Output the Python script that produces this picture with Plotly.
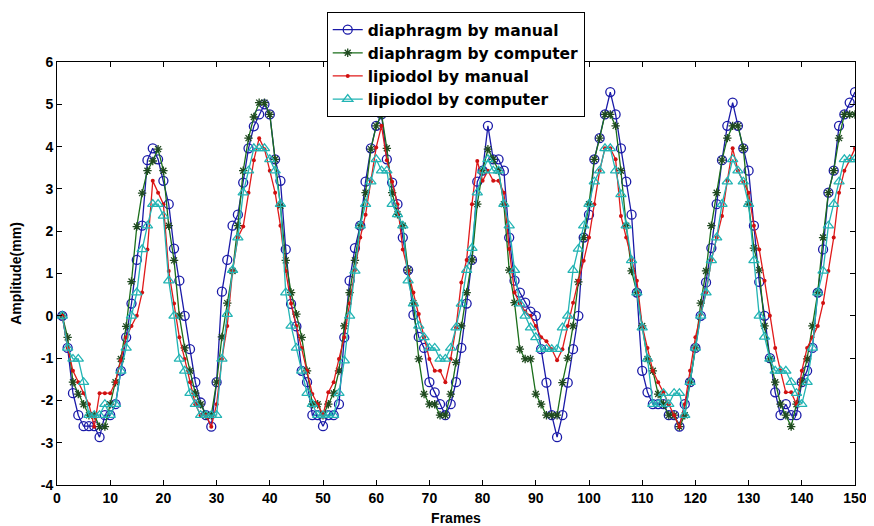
import plotly.graph_objects as go

frames = list(range(1, 151))

diaphragm_manual = [
    0, -0.76, -1.83, -2.35, -2.61, -2.61, -2.61, -2.87, -2.35, -2.35,
    -2.09, -1.30, -0.51, 0.29, 1.32, 2.13, 3.68, 3.96, 3.70, 3.19,
    2.64, 1.59, 0.83, 0.00, -0.79, -1.57, -2.05, -2.35, -2.62, -1.57,
    0.57, 1.32, 2.13, 2.39, 3.15, 3.96, 4.48, 4.76, 5.00, 4.76,
    3.70, 3.19, 1.57, 0.28, -0.25, -1.30, -1.57, -2.35, -2.35, -2.61,
    -2.35, -2.35, -2.09, -0.51, 0.83, 1.60, 2.13, 3.17, 3.96, 4.49,
    4.76, 3.70, 3.15, 2.64, 1.85, 1.08, 0.02, -0.50, -0.76, -1.57,
    -1.81, -2.09, -2.35, -2.09, -1.57, -0.76, 0.29, 1.32, 3.17, 3.43,
    4.49, 3.70, 3.70, 3.43, 1.85, 0.83, 0.55, 0.31, 0.10, 0.00,
    -0.79, -1.58, -2.35, -2.87, -2.35, -1.58, -0.79, 0.00, 1.85, 2.39,
    3.70, 4.20, 4.76, 5.29, 4.76, 3.96, 3.17, 2.39, 0.55, -1.30,
    -1.81, -2.09, -2.09, -2.09, -2.35, -2.35, -2.62, -2.09, -1.57, -0.76,
    0.00, 0.79, 1.60, 2.64, 3.68, 4.49, 5.04, 4.49, 3.96, 3.43,
    2.13, 0.80, 0.00, -1.00, -1.81, -2.35, -2.09, -2.35, -2.35, -1.57,
    -1.30, -0.76, 0.55, 1.57, 2.91, 3.43, 4.49, 4.76, 5.04, 5.29,
]

diaphragm_computer = [
    0, -0.51, -1.57, -1.85, -2.09, -2.35, -2.35, -2.62, -2.62, -2.09,
    -1.57, -1.02, -0.25, 0.81, 2.11, 2.90, 3.43, 3.66, 3.94, 3.43,
    2.13, 1.31, 0.00, -0.76, -1.30, -1.83, -2.09, -2.35, -2.35, -1.57,
    -0.50, 0.30, 1.06, 2.13, 3.43, 4.20, 4.70, 5.04, 5.04, 4.76,
    3.70, 2.60, 1.31, 0.55, 0.04, -0.51, -1.30, -2.09, -2.09, -2.35,
    -2.09, -1.83, -1.30, -0.24, 0.55, 1.31, 2.13, 2.91, 3.94, 4.49,
    4.76, 3.96, 2.91, 2.40, 2.13, 1.08, 0.30, -1.02, -1.85, -2.09,
    -2.09, -2.35, -2.35, -1.85, -1.10, -0.24, 0.55, 1.32, 2.64, 3.43,
    3.94, 3.70, 3.43, 2.64, 1.08, 0.31, -0.79, -1.02, -1.02, -1.85,
    -2.09, -2.35, -2.35, -2.35, -1.58, -1.00, -0.24, 0.80, 1.85, 2.64,
    3.70, 4.20, 4.76, 4.76, 4.49, 3.43, 2.13, 1.06, 0.55, -0.24,
    -1.02, -1.30, -1.85, -2.09, -2.35, -2.35, -2.62, -2.35, -1.57, -0.76,
    0.30, 1.06, 2.13, 2.91, 3.68, 4.20, 4.49, 4.49, 3.96, 2.64,
    1.60, 1.08, -0.24, -1.02, -1.57, -2.09, -2.35, -2.62, -2.09, -1.57,
    -1.02, -0.24, 0.55, 1.85, 2.91, 3.43, 4.20, 4.76, 4.76, 4.76,
]

lipiodol_manual = [
    0, -0.76, -1.30, -1.57, -1.83, -2.09, -2.62, -1.83, -1.83, -1.83,
    -1.57, -1.05, -0.51, -0.24, 0.00, 0.55, 1.57, 3.19, 2.91, 2.64,
    1.06, 0.29, -0.51, -1.02, -1.57, -2.09, -2.35, -2.35, -2.62, -2.09,
    -1.02, -0.24, 1.06, 1.85, 2.11, 2.91, 3.68, 4.20, 3.94, 3.43,
    2.91, 2.13, 1.06, 0.29, -0.24, -0.76, -1.30, -1.85, -2.09, -2.35,
    -1.81, -1.57, -1.02, -0.51, 0.29, 1.08, 1.85, 2.39, 3.17, 3.98,
    4.49, 3.68, 3.17, 2.64, 1.57, 1.06, 0.55, 0.04, -0.51, -1.02,
    -1.30, -1.30, -1.57, -1.02, -0.28, 0.79, 1.32, 2.64, 3.66, 3.19,
    3.43, 3.19, 3.19, 2.91, 1.58, 0.55, 0.29, 0.10, 0.00, -0.24,
    -0.51, -0.60, -0.79, -1.05, -0.79, -0.24, 0.31, 0.83, 1.30, 1.85,
    2.64, 3.43, 3.96, 3.96, 3.70, 2.36, 1.85, 1.32, 0.83, -0.24,
    -0.76, -1.30, -1.57, -1.81, -2.09, -2.35, -2.62, -2.09, -1.30, -0.51,
    0.04, 0.55, 1.32, 1.85, 2.36, 3.19, 3.96, 3.43, 3.17, 2.91,
    2.13, 1.57, 0.83, 0.00, -0.76, -1.30, -1.81, -1.81, -2.09, -1.30,
    -0.76, -0.51, -0.24, 0.30, 1.06, 1.85, 2.91, 3.43, 3.68, 3.96,
]

lipiodol_computer = [
    0, -0.76, -1.02, -1.02, -1.57, -2.35, -2.35, -2.35, -2.09, -2.35,
    -2.09, -1.30, -0.76, 0.00, 0.55, 1.57, 2.13, 2.64, 2.64, 2.36,
    0.83, 0.00, -1.02, -1.30, -1.83, -2.09, -2.35, -2.35, -2.35, -2.35,
    -1.02, 0.04, 1.08, 1.85, 2.91, 3.43, 3.96, 3.96, 3.96, 3.70,
    3.43, 2.64, 0.55, -0.24, -0.76, -1.30, -1.83, -2.09, -2.35, -2.35,
    -2.35, -2.35, -1.83, -1.06, 0.00, 1.06, 2.13, 2.64, 3.17, 3.70,
    3.43, 3.43, 2.64, 2.40, 2.13, 0.83, 0.29, -0.24, -0.51, -0.76,
    -0.76, -1.02, -1.02, -0.76, -0.28, 0.28, 1.08, 1.60, 2.91, 3.43,
    3.70, 3.43, 3.43, 2.64, 2.13, 1.08, 0.29, 0.00, -0.28, -0.51,
    -0.79, -0.79, -0.79, -0.79, -0.28, 0.00, 1.08, 1.58, 2.13, 2.64,
    3.17, 3.43, 3.96, 3.96, 3.43, 2.87, 2.13, 1.31, 0.55, -0.28,
    -1.02, -2.09, -2.09, -1.83, -2.09, -1.83, -1.83, -2.35, -1.57, -0.76,
    0.00, 0.55, 1.31, 1.85, 2.64, 3.17, 3.70, 3.43, 3.17, 2.64,
    1.31, 0.00, -0.50, -1.02, -1.30, -1.30, -1.30, -1.57, -1.83, -2.09,
    -1.57, -0.76, 0.55, 1.06, 2.13, 2.64, 3.17, 3.70, 3.70, 3.70,
]

x_ticks = list(range(0, 151, 10))
y_ticks = list(range(-4, 7, 1))

FONT = "Arial, Liberation Sans, sans-serif"
LEGEND_FONT = "DejaVu Sans, Arial, sans-serif"

fig = go.Figure()
fig.add_trace(go.Scatter(
    x=frames, y=diaphragm_manual, name="diaphragm by manual", mode="lines+markers",
    line=dict(color="#1a1aa8", width=1.3),
    marker=dict(symbol="circle-open", size=9, color="#1a1aa8", line=dict(width=1.3)),
))
fig.add_trace(go.Scatter(
    x=frames, y=diaphragm_computer, name="diaphragm by computer", mode="lines+markers",
    line=dict(color="#1a6e1a", width=1.3),
    marker=dict(symbol="asterisk-open", size=7, color="#1f4a1f", line=dict(width=1.3, color="#1f4a1f")),
))
fig.add_trace(go.Scatter(
    x=frames, y=lipiodol_manual, name="lipiodol by manual", mode="lines+markers",
    line=dict(color="#e01a1a", width=1.3),
    marker=dict(symbol="circle", size=4, color="#d01010"),
))
fig.add_trace(go.Scatter(
    x=frames, y=lipiodol_computer, name="lipiodol by computer", mode="lines+markers",
    line=dict(color="#22b4b4", width=1.3),
    marker=dict(symbol="triangle-up-open", size=9, color="#22b4b4", line=dict(width=1.3)),
))

axis_common = dict(
    showline=True, linecolor="black", linewidth=1, mirror="ticks",
    ticks="inside", ticklen=5, tickcolor="black", showgrid=False, zeroline=False,
    automargin=False,
    tickfont=dict(family=FONT, size=14, color="black", weight="bold"),
)

# The page body adds an 8px offset, so the figure is 8px smaller and margins shifted.
fig.update_layout(
    width=866, height=518,
    margin=dict(l=49, r=19, t=54, b=41, autoexpand=False),
    paper_bgcolor="white", plot_bgcolor="white",
    xaxis=dict(range=[0, 150], tickvals=x_ticks, ticktext=[str(v) for v in x_ticks],
               title=dict(text="Frames", font=dict(family=FONT, size=14, color="black", weight="bold")),
               **axis_common),
    yaxis=dict(range=[-4, 6], tickvals=y_ticks, ticktext=[str(v) for v in y_ticks],
               title=dict(text="Amplitude(mm)", font=dict(family=FONT, size=14, color="black", weight="bold")),
               **axis_common),
    legend=dict(x=0.338, y=1.118, xanchor="left", yanchor="top",
                bgcolor="white", bordercolor="black", borderwidth=1,
                font=dict(family=LEGEND_FONT, size=15.5, color="black", weight="bold"),
                tracegroupgap=0, itemwidth=30),
    showlegend=True,
)

fig.write_html("out.html")
